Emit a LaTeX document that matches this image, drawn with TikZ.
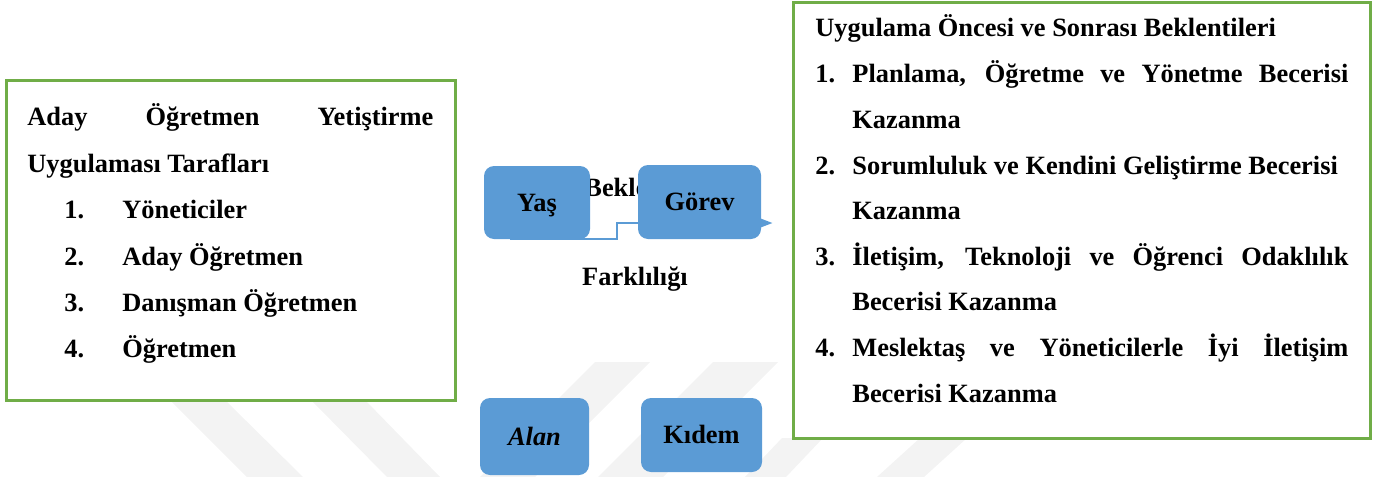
\documentclass[tikz,border=0pt]{standalone}
\usepackage{fontspec}
\setmainfont{Liberation Serif}
\usetikzlibrary{calc}
\definecolor{kutuyesil}{HTML}{70AD47}
\definecolor{kutumavi}{HTML}{5B9BD5}
\definecolor{filigran}{HTML}{F3F3F3}
\tikzset{
  cerceve/.style={draw=kutuyesil, fill=white, line width=1.5pt},
  etiket/.style={fill=kutumavi, rounded corners=5pt, inner sep=0pt,
    text height=11.5pt, text depth=3pt},
  satir/.style={anchor=base west},
  baglanti/.style={draw=kutumavi, line width=1.1pt}
}
\begin{document}
\begin{tikzpicture}[x=0.5pt, y=-0.5pt, every node/.style={font=\fontsize{13.2}{15}\selectfont\bfseries, inner sep=0pt}]
	\useasboundingbox (0,0) rectangle (1389,477);
	
	% Filigran seritleri
	\fill[filigran] (172,402) -- (227,402) -- (303,477) -- (247,477) -- cycle;
	\fill[filigran] (313,402) -- (367,402) -- (440,477) -- (387,477) -- cycle;
	\fill[filigran] (595,362) -- (650,362) -- (535,477) -- (480,477) -- cycle;
	\fill[filigran] (713,362) -- (778,362) -- (663,477) -- (598,477) -- cycle;
	\fill[filigran] (782,438) -- (823,438) -- (786,477) -- (745,477) -- cycle;
	\fill[filigran] (920,438) -- (967,438) -- (924,477) -- (877,477) -- cycle;
	
	% Sol kutu: taraflar
	\draw[cerceve] (6,80) rectangle (455,400);
	\node[satir] (tarafA) at (27,125) {\makebox[203pt][s]{Aday Öğretmen Yetiştirme}};
	\node[satir] (tarafB) at (27,172) {Uygulaması Tarafları};
	\node[satir] (n1) at (64,218) {1.};
	\node[satir] (t1) at (122,218) {Yöneticiler};
	\node[satir] (n2) at (64,265) {2.};
	\node[satir] (t2) at (122,265) {Aday Öğretmen};
	\node[satir] (n3) at (64,311) {3.};
	\node[satir] (t3) at (122,311) {Danışman Öğretmen};
	\node[satir] (n4) at (64,357) {4.};
	\node[satir] (t4) at (122,357) {Öğretmen};
	
	% Orta: basliklar (kutularin arkasinda)
	\node[satir] (bekle) at (584,196) {Bekle};
	\node[anchor=base] (fark) at (635,285) {Farklılığı};
	
	% Baglanti cizgisi
	\draw[baglanti] ($(537,239)+(-27,0)$) coordinate (bas) -- (617,239) -- (617,223) -- (638,223) coordinate (son);
	
	% Mavi kutular
	\node[etiket, minimum width=53pt, minimum height=36.5pt] (yas) at (537,202.5) {Yaş};
	\node[etiket, minimum width=61.5pt, minimum height=37pt] (gorev) at (699.5,202) {Görev};
	\fill[kutumavi] ($(gorev.east)+(-2,16)$) -- ($(gorev.east)+(11,21)$) -- ($(gorev.east)+(-2,26)$) -- cycle;
	\node[etiket, minimum width=54.5pt, minimum height=38.5pt] (alan) at (534.5,436.5) {\itshape Alan};
	\node[etiket, minimum width=60.5pt, minimum height=37pt] (kidem) at (701.5,435) {Kıdem};
	
	% Sag kutu: beklentiler
	\draw[cerceve] (793,2) rectangle (1370,438);
	\node[satir] (baslikB) at (815,36) {Uygulama Öncesi ve Sonrası Beklentileri};
	\node[satir] (m1) at (815,82) {1.};
	\node[satir] (b1) at (852,82) {\makebox[248pt][s]{Planlama, Öğretme ve Yönetme Becerisi}};
	\node[satir] (b1b) at (852,128) {Kazanma};
	\node[satir] (m2) at (815,174) {2.};
	\node[satir] (b2) at (852,174) {Sorumluluk ve Kendini Geliştirme Becerisi};
	\node[satir] (b2b) at (852,219) {Kazanma};
	\node[satir] (m3) at (815,265) {3.};
	\node[satir] (b3) at (852,265) {\makebox[248pt][s]{İletişim, Teknoloji ve Öğrenci Odaklılık}};
	\node[satir] (b3b) at (852,310) {Becerisi Kazanma};
	\node[satir] (m4) at (815,356) {4.};
	\node[satir] (b4) at (852,356) {\makebox[248pt][s]{Meslektaş ve Yöneticilerle İyi İletişim}};
	\node[satir] (b4b) at (852,402) {Becerisi Kazanma};
	
\end{tikzpicture}
\end{document}
